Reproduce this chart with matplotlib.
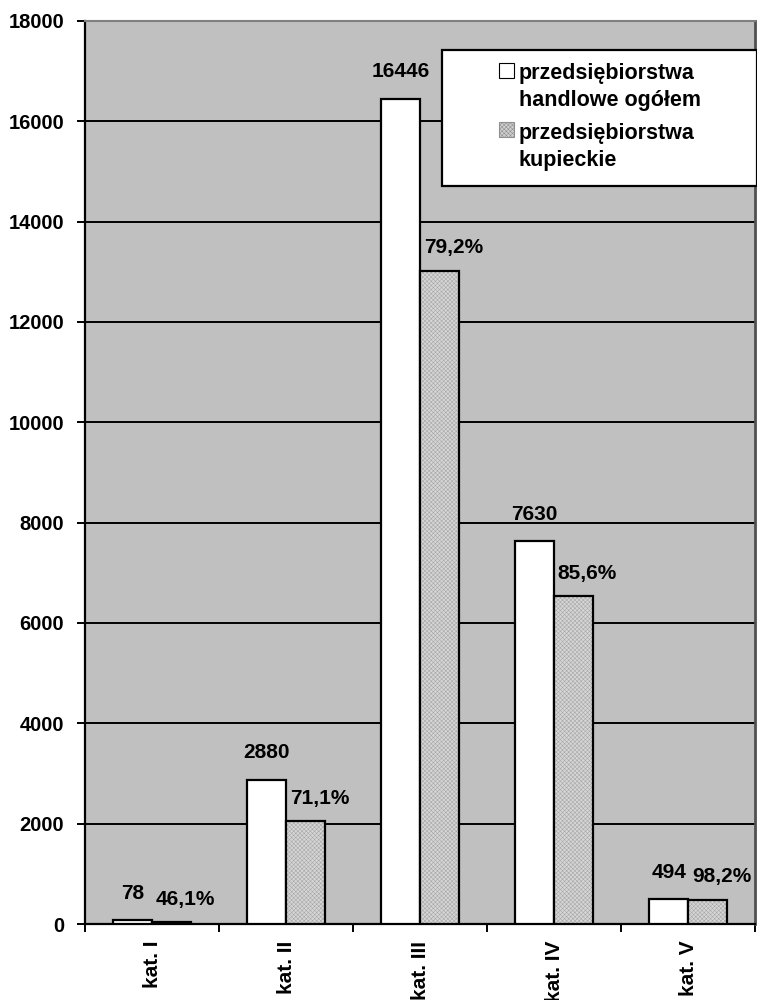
import matplotlib
matplotlib.use("Agg")
import matplotlib.pyplot as plt
from matplotlib.patches import Patch, Rectangle
from matplotlib.legend_handler import HandlerPatch
import numpy as np

# ---- data ----
categories = ["kat. I", "kat. II", "kat. III", "kat. IV", "kat. V"]
total_values = [78, 2880, 16446, 7630, 494]          # przedsiębiorstwa handlowe ogółem
merchant_values = [36, 2048, 13025, 6531, 485]       # przedsiębiorstwa kupieckie
merchant_share = ["46,1%", "71,1%", "79,2%", "85,6%", "98,2%"]
series_names = ["przedsiębiorstwa\nhandlowe ogółem", "przedsiębiorstwa\nkupieckie"]
y_ticks = [0, 2000, 4000, 6000, 8000, 10000, 12000, 14000, 16000, 18000]

plt.rcParams['font.family'] = ['Liberation Sans', 'DejaVu Sans']
plt.rcParams['font.weight'] = 'bold'

W, H = 757, 1000
fig = plt.figure(figsize=(W / 100, H / 100), dpi=100)
fig.patch.set_facecolor('white')

ax = fig.add_axes([85 / W, (H - 924) / H, (755 - 85) / W, (924 - 21) / H])
ax.set_facecolor('#c0c0c0')

x = np.arange(len(categories))
bw = 0.29

# white bars
ax.bar(x - bw / 2, total_values, width=bw, color='white', edgecolor='black',
       linewidth=1.6, zorder=3)
# hatched bars: fill + fine hatch, then black outline
plt.rcParams['hatch.linewidth'] = 0.4
ax.bar(x + bw / 2, merchant_values, width=bw, color='#d6d6d6', edgecolor='#a8a8a8',
       hatch='xxxxxxxx', linewidth=0, zorder=3)
ax.bar(x + bw / 2, merchant_values, width=bw, fill=False, edgecolor='black',
       linewidth=1.6, zorder=4)

# data labels
for xi, v, lab in zip(x, total_values, total_values):
    ax.annotate(str(lab), xy=(xi - bw / 2, v), xytext=(0, 27), textcoords='offset pixels',
                ha='center', va='center', fontsize=15, fontweight='bold', zorder=6)
for xi, v, lab in zip(x, merchant_values, merchant_share):
    ax.annotate(lab, xy=(xi + bw / 2, v), xytext=(14, 23), textcoords='offset pixels',
                ha='center', va='center', fontsize=15, fontweight='bold', zorder=6)

ax.set_xlim(-0.5, len(categories) - 0.5)
ax.set_ylim(0, 18000)
ax.set_yticks(y_ticks)
ax.set_yticklabels([str(t) for t in y_ticks], fontsize=14.5, fontweight='bold')
ax.yaxis.grid(True, color='black', linewidth=1.4, zorder=1)
ax.set_axisbelow(True)

ax.set_xticks(x)
ax.set_xticklabels(categories, rotation=90, ha='center', va='top', fontsize=15,
                   fontweight='bold')
ax.set_xticks(np.arange(len(categories) + 1) - 0.5, minor=True)
ax.tick_params(axis='x', which='major', length=0, pad=12)
ax.tick_params(axis='x', which='minor', length=6, width=1.4, direction='out')
ax.tick_params(axis='y', length=6, width=1.4, pad=9, direction='out')

for s in ['left', 'bottom']:
    ax.spines[s].set_color('black')
    ax.spines[s].set_linewidth(1.6)
ax.spines['top'].set_color('#808080')
ax.spines['top'].set_linewidth(1.5)
ax.spines['right'].set_color('#505050')
ax.spines['right'].set_linewidth(2)

# legend box
box = Rectangle((442 / W, 1 - 186 / H), (757 - 442) / W, (186 - 50) / H,
                transform=fig.transFigure, facecolor='white', edgecolor='black',
                linewidth=1.6, zorder=10)
fig.patches.append(box)


def top_square(legend, orig_handle, xdescent, ydescent, width, height, fontsize):
    return Rectangle((-xdescent, -ydescent + 0.8 * fontsize), width, height)


handles = [Patch(facecolor='white', edgecolor='black', linewidth=0.8),
           Patch(facecolor='#d0d0d0', edgecolor='#909090', hatch='xxxxxxxx', linewidth=0.8)]
leg = fig.legend(handles, series_names, loc='center', bbox_to_anchor=(600 / W, 1 - 117 / H),
                 frameon=False, fontsize=15.5, handlelength=0.7, handleheight=0.7,
                 handletextpad=0.2, labelspacing=0.55, borderpad=0,
                 handler_map={Patch: HandlerPatch(patch_func=top_square)})
leg.set_zorder(11)
for t in leg.get_texts():
    t.set_fontweight('bold')
    t.set_linespacing(1.35)

fig.savefig('out.png', dpi=100)
